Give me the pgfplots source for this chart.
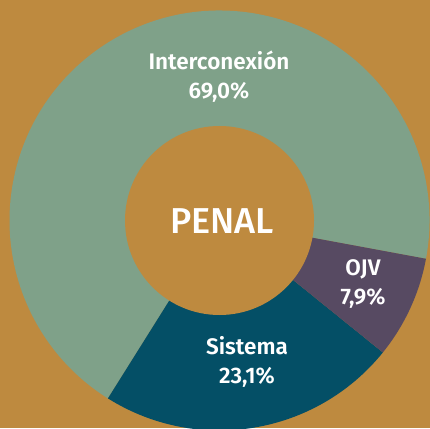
\documentclass[border=0pt]{standalone}
\usepackage{pgfplots}
\pgfplotsset{compat=1.18}
\usepackage{fontspec}
\setmainfont{Fira Sans}[BoldFont={Fira Sans SemiBold}]
\newfontfamily\medfont{Fira Sans Medium}
\definecolor{bgc}{HTML}{BE8A3F}
\definecolor{cInter}{HTML}{7FA189}
\definecolor{cSis}{HTML}{044F66}
\definecolor{cOJV}{HTML}{574A62}
\begin{document}
\begin{tikzpicture}
\path[use as bounding box] (0,0) rectangle (430pt,428pt);
\clip (0,0) rectangle (430pt,428pt);
\fill[bgc] (0,0) rectangle (430pt,428pt);
\begin{axis}[
    at={(0,0)}, anchor=south west,
    x=1pt, y=1pt,
    xmin=0, xmax=430, ymin=0, ymax=428,
    hide axis, clip=false,
]
% shares in percent, counter-clockwise from -10.5 deg
\pgfplotsextra{
  \foreach \p/\c [remember=\e as \s (initially -10.5)] in {69.0/cInter, 23.1/cSis, 7.9/cOJV}{
    \pgfmathsetmacro\e{\s+3.6*\p}
    \fill[\c] (axis cs:219.5,207.5) -- ++(\s:210pt) arc[start angle=\s, end angle=\e, radius=210pt] -- cycle;
  }
  \fill[bgc] (axis cs:219.5,207.5) circle[radius=94.5pt];
}
\node[white, font=\bfseries\fontsize{22.5}{29}\selectfont, align=center] at (axis cs:219,351) {Interconexión\\69,0\%};
\node[white, font=\medfont\fontsize{36}{40}\selectfont] at (axis cs:222,207) {PENAL};
\node[white, font=\bfseries\fontsize{22.5}{29}\selectfont, align=center] at (axis cs:363,144) {OJV\\7,9\%};
\node[white, font=\bfseries\fontsize{22.5}{29}\selectfont, align=center] at (axis cs:247,66) {Sistema\\23,1\%};
\end{axis}
\end{tikzpicture}
\end{document}
